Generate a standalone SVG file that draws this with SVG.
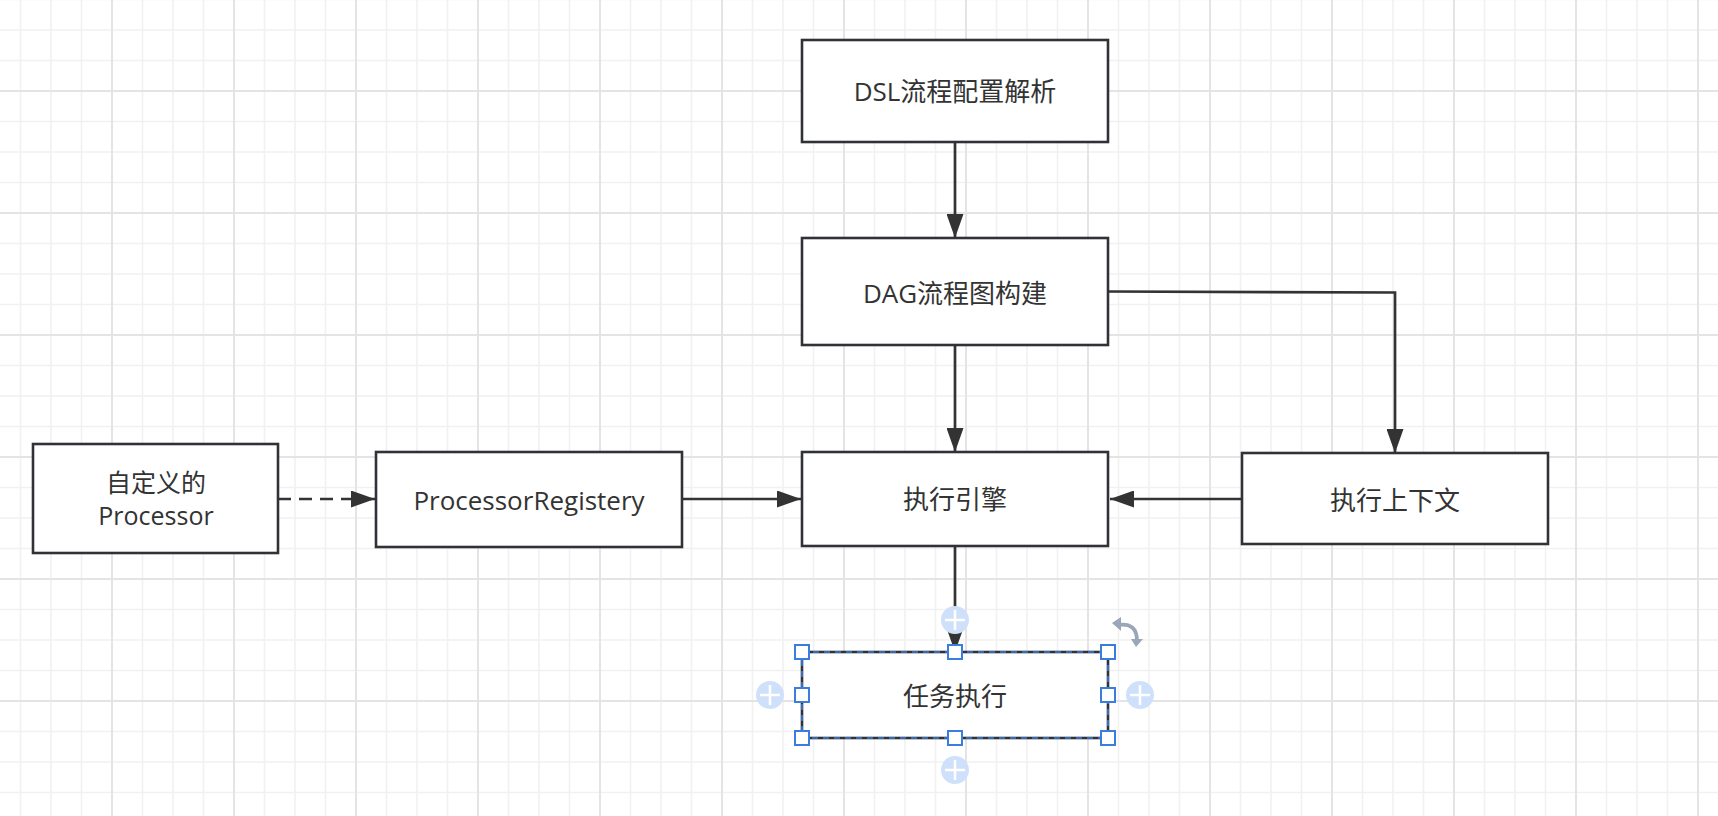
<svg xmlns="http://www.w3.org/2000/svg" width="1718" height="816" viewBox="0 0 1718 816">
<style>
.box{fill:#ffffff;stroke:#303236;stroke-width:2.6}
.lbl{font-family:"Open Sans","Noto Sans CJK SC",sans-serif;font-size:26px;fill:#333333;text-anchor:middle}
.lbl2{font-size:25px}
.edge{fill:none;stroke:#333333;stroke-width:2.7}
.dash{stroke-dasharray:13 8}
.minor{stroke:#f1f1f1;stroke-width:1.6}
.major{stroke:#e4e4e4;stroke-width:2}
.handle{fill:#ffffff;stroke:#3a7de0;stroke-width:2}
.plus{fill:#cfe1fa}
.plusl{stroke:#ffffff;stroke-width:2.5}
</style>
<defs>
<pattern id="grid" patternUnits="userSpaceOnUse" x="51" y="30" width="122" height="122">
<path class="minor" d="M0,0V122M30.5,0V122M91.5,0V122M122,0V122M0,0H122M0,30.5H122M0,91.5H122M0,122H122"/>
<path class="major" d="M61,0V122M0,61H122"/>
</pattern>
<marker id="arr" viewBox="0 0 24 17" refX="24" refY="8.5" markerWidth="24" markerHeight="17" markerUnits="userSpaceOnUse" orient="auto">
<path d="M0,0L24,8.5L0,17z" fill="#333333"/>
</marker>
</defs>
<rect x="0" y="0" width="1718" height="816" fill="#ffffff"/>
<rect x="0" y="0" width="1718" height="816" fill="url(#grid)"/>

<g id="connectors">
<path class="edge" d="M955,142L955,238" marker-end="url(#arr)"/>
<path class="edge" d="M955,345L955,452" marker-end="url(#arr)"/>
<path class="edge" d="M1108,291.5L1395,292.5L1395,453" marker-end="url(#arr)"/>
<path class="edge dash" d="M278,499L375,499" marker-end="url(#arr)"/>
<path class="edge" d="M682,499L801,499" marker-end="url(#arr)"/>
<path class="edge" d="M1242,499L1110,499" marker-end="url(#arr)"/>
<path class="edge" d="M955,546L955,652" marker-end="url(#arr)"/>
</g>

<g id="node-dsl">
<rect class="box" x="802" y="40" width="306" height="102"/>
<text class="lbl" x="955" y="101">DSL流程配置解析</text>
</g>
<g id="node-dag">
<rect class="box" x="802" y="238" width="306" height="107"/>
<text class="lbl" x="955" y="303">DAG流程图构建</text>
</g>
<g id="node-custom">
<rect class="box" x="33" y="444" width="245" height="109"/>
<text class="lbl lbl2" x="156" y="492">自定义的</text>
<text class="lbl lbl2" x="156" y="525">Processor</text>
</g>
<g id="node-registry">
<rect class="box" x="376" y="452" width="306" height="95"/>
<text class="lbl" x="529" y="510">ProcessorRegistery</text>
</g>
<g id="node-engine">
<rect class="box" x="802" y="452" width="306" height="94"/>
<text class="lbl" x="955" y="509">执行引擎</text>
</g>
<g id="node-context">
<rect class="box" x="1242" y="453" width="306" height="91"/>
<text class="lbl" x="1395" y="510">执行上下文</text>
</g>
<g id="node-task">
<rect class="box" x="802" y="652" width="306" height="86"/>
<text class="lbl" x="955" y="706">任务执行</text>
</g>

<g id="selection">
<rect x="802" y="652" width="306" height="86" fill="none" stroke="#3a7de0" stroke-width="1.6" stroke-dasharray="6 5"/>
<rect class="handle" x="795" y="645" width="14" height="14"/>
<rect class="handle" x="948" y="645" width="14" height="14"/>
<rect class="handle" x="1101" y="645" width="14" height="14"/>
<rect class="handle" x="795" y="688" width="14" height="14"/>
<rect class="handle" x="1101" y="688" width="14" height="14"/>
<rect class="handle" x="795" y="731" width="14" height="14"/>
<rect class="handle" x="948" y="731" width="14" height="14"/>
<rect class="handle" x="1101" y="731" width="14" height="14"/>
<circle class="plus" cx="955" cy="620" r="14"/>
<path class="plusl" d="M945,620H965M955,610V630"/>
<circle class="plus" cx="955" cy="770" r="14"/>
<path class="plusl" d="M945,770H965M955,760V780"/>
<circle class="plus" cx="770" cy="695" r="14"/>
<path class="plusl" d="M760,695H780M770,685V705"/>
<circle class="plus" cx="1140" cy="695" r="14"/>
<path class="plusl" d="M1130,695H1150M1140,685V705"/>
<path d="M1118,625Q1137,622 1137,641" fill="none" stroke="#9aa7b9" stroke-width="3.8"/>
<path d="M1112,623L1121,617L1121,631z" fill="#9aa7b9"/>
<path d="M1131,639L1143,639L1136,647z" fill="#9aa7b9"/>
</g>
</svg>
